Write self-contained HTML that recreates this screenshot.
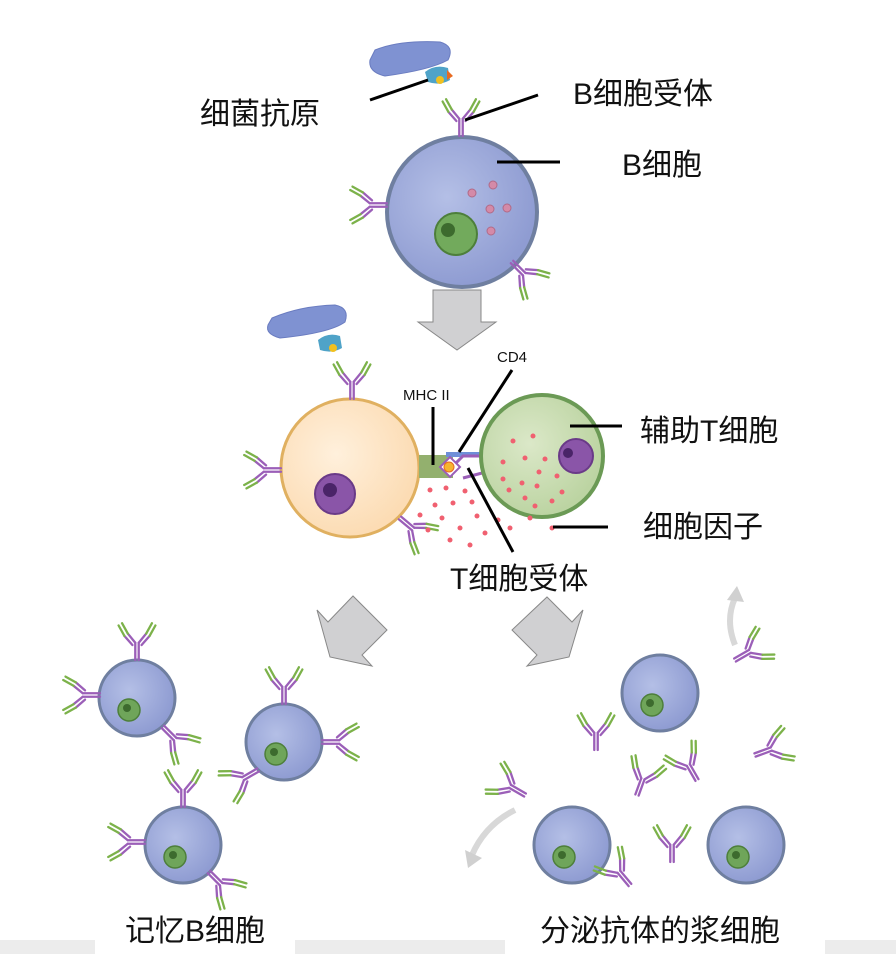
<!DOCTYPE html>
<html><head><meta charset="utf-8"><style>
body{margin:0;background:#fff}
svg{display:block}
text{font-family:"Liberation Sans","Noto Sans CJK SC",sans-serif;fill:#111}
</style></head><body>
<svg width="896" height="954" viewBox="0 0 896 954" xmlns="http://www.w3.org/2000/svg">
<defs>
<g id="ab0" fill="none" stroke-linecap="round">
  <path d="M-1.5,0 V-15 M1.5,0 V-15" stroke="#9b5fb8" stroke-width="2"/>
  <path d="M-1.5,-15 L-8,-23 M1.5,-15 L8,-23 M-4,-13 L-11,-21 M4,-13 L11,-21" stroke="#9b5fb8" stroke-width="2"/>
  <path d="M-8,-23 L-13,-32 M8,-23 L13,-32 M-11,-21 L-16,-30 M11,-21 L16,-30" stroke="#7cb24a" stroke-width="2"/>
</g>
<g id="ab"><use href="#ab0" transform="scale(1.15)"/></g>
<radialGradient id="bg" cx="40%" cy="40%" r="60%"><stop offset="0" stop-color="#b4bfe6"/><stop offset="1" stop-color="#8f9cd2"/></radialGradient>
<radialGradient id="og" cx="40%" cy="40%" r="60%"><stop offset="0" stop-color="#fff0dc"/><stop offset="1" stop-color="#fcdcb4"/></radialGradient>
<radialGradient id="gg" cx="40%" cy="40%" r="60%"><stop offset="0" stop-color="#dbe8c8"/><stop offset="1" stop-color="#bcd4a2"/></radialGradient>
<g id="sc">
  <circle r="38" fill="url(#bg)" stroke="#6f7fa0" stroke-width="3"/>
  <circle cx="-8" cy="12" r="11" fill="#6fa55a" stroke="#4d7f3a" stroke-width="1.5"/>
  <circle cx="-10" cy="10" r="4" fill="#3d6b2e"/>
</g>
</defs>

<rect x="0" y="940" width="896" height="14" fill="#ececec"/>
<rect x="95" y="940" width="200" height="14" fill="#fff"/>
<rect x="505" y="940" width="320" height="14" fill="#fff"/>

<!-- top bacterium -->
<path d="M375,50 Q400,40 440,42 Q455,46 448,60 Q430,70 385,76 Q368,72 370,60 Z" fill="#7f92d2" stroke="#6a7cc0"/>
<path d="M425,72 Q435,64 448,68 L450,80 Q440,86 428,82 Z" fill="#4fa3c8"/>
<circle cx="440" cy="80" r="4" fill="#f0c020"/>
<path d="M447,70 L453,76 L447,80 Z" fill="#e86a20"/>

<!-- top B cell -->
<circle cx="462" cy="212" r="75" fill="url(#bg)" stroke="#6f7fa0" stroke-width="4"/>
<use href="#ab" transform="translate(461,136)"/>
<use href="#ab" transform="translate(387,205) rotate(-90)"/>
<use href="#ab" transform="translate(512,262) rotate(135)"/>
<circle cx="456" cy="234" r="21" fill="#72aa5c" stroke="#4d7f3a" stroke-width="2"/>
<circle cx="448" cy="230" r="7" fill="#3d6b2e"/>
<g fill="#d48aa8" stroke="#b06a88" stroke-width="1">
<circle cx="472" cy="193" r="4"/><circle cx="493" cy="185" r="4"/><circle cx="490" cy="209" r="4"/><circle cx="507" cy="208" r="4"/><circle cx="491" cy="231" r="4"/>
</g>
<g stroke="#000" stroke-width="3">
<line x1="370" y1="100" x2="428" y2="80"/>
<line x1="465" y1="120" x2="538" y2="95"/>
<line x1="497" y1="162" x2="560" y2="162"/>
</g>
<text x="200" y="124" font-size="30">细菌抗原</text>
<text x="573" y="104" font-size="30">B细胞受体</text>
<text x="622" y="175" font-size="30">B细胞</text>

<path d="M433,290 H481 V322 H496 L457,350 L418,322 H433 Z" fill="#d0d0d2" stroke="#888" stroke-width="1"/>

<!-- middle bacterium -->
<path d="M272,318 Q300,306 335,305 Q350,308 345,322 Q330,333 280,338 Q265,334 268,325 Z" fill="#7f92d2" stroke="#6a7cc0"/>
<path d="M318,340 Q328,332 340,336 L342,348 Q332,354 320,350 Z" fill="#4fa3c8"/>
<circle cx="333" cy="348" r="4" fill="#f0c020"/>

<!-- orange cell -->
<circle cx="350" cy="468" r="69" fill="url(#og)" stroke="#e0b060" stroke-width="3"/>
<use href="#ab" transform="translate(352,399)"/>
<use href="#ab" transform="translate(281,470) rotate(-90)"/>
<use href="#ab" transform="translate(400,518) rotate(130)"/>
<circle cx="335" cy="494" r="20" fill="#8a55a8" stroke="#6a3a88" stroke-width="2"/>
<circle cx="330" cy="490" r="7" fill="#4a2468"/>

<rect x="419" y="455" width="34" height="23" fill="#93b06e"/>
<rect x="446" y="452" width="40" height="5" fill="#6f8fd8"/>
<path d="M453,466 L463,456 L486,456 M463,478 L486,472" stroke="#9b5fb8" stroke-width="3" fill="none"/>
<path d="M440,467 L450,457 L460,467 L450,477 Z" fill="#fff" stroke="#9b5fb8" stroke-width="2"/>
<circle cx="449" cy="467" r="5" fill="#f6b430" stroke="#e86a20"/>

<circle cx="542" cy="456" r="61" fill="url(#gg)" stroke="#6b9a55" stroke-width="4"/>
<circle cx="576" cy="456" r="17" fill="#8a55a8" stroke="#6a3a88" stroke-width="2"/>
<circle cx="568" cy="453" r="5" fill="#4a2468"/>
<g fill="#f06070">
<circle cx="533" cy="436" r="2.5"/><circle cx="513" cy="441" r="2.5"/><circle cx="525" cy="458" r="2.5"/><circle cx="545" cy="459" r="2.5"/><circle cx="503" cy="462" r="2.5"/><circle cx="539" cy="472" r="2.5"/><circle cx="503" cy="479" r="2.5"/><circle cx="522" cy="483" r="2.5"/><circle cx="537" cy="486" r="2.5"/><circle cx="557" cy="476" r="2.5"/><circle cx="509" cy="490" r="2.5"/><circle cx="525" cy="498" r="2.5"/><circle cx="552" cy="501" r="2.5"/><circle cx="535" cy="506" r="2.5"/><circle cx="562" cy="492" r="2.5"/>
<circle cx="430" cy="490" r="2.5"/><circle cx="446" cy="488" r="2.5"/><circle cx="465" cy="491" r="2.5"/><circle cx="435" cy="505" r="2.5"/><circle cx="453" cy="503" r="2.5"/><circle cx="472" cy="502" r="2.5"/><circle cx="420" cy="515" r="2.5"/><circle cx="442" cy="518" r="2.5"/><circle cx="477" cy="516" r="2.5"/><circle cx="498" cy="520" r="2.5"/><circle cx="428" cy="530" r="2.5"/><circle cx="460" cy="528" r="2.5"/><circle cx="485" cy="533" r="2.5"/><circle cx="510" cy="528" r="2.5"/><circle cx="450" cy="540" r="2.5"/><circle cx="470" cy="545" r="2.5"/><circle cx="552" cy="528" r="2.5"/><circle cx="530" cy="518" r="2.5"/>
</g>
<g stroke="#000" stroke-width="3">
<line x1="433" y1="407" x2="433" y2="465"/>
<line x1="459" y1="452" x2="512" y2="370"/>
<line x1="468" y1="468" x2="513" y2="552"/>
<line x1="570" y1="426" x2="622" y2="426"/>
<line x1="553" y1="527" x2="608" y2="527"/>
</g>
<text x="403" y="400" font-size="15">MHC II</text>
<text x="497" y="362" font-size="15">CD4</text>
<text x="640" y="441" font-size="30">辅助T细胞</text>
<text x="643" y="537" font-size="30">细胞因子</text>
<text x="450" y="589" font-size="30">T细胞受体</text>

<path d="M317,610 L328,622 L353,596 L387,630 L362,655 L372,666 L330,657 Z" fill="#d0d0d2" stroke="#888"/>
<path d="M583,610 L572,622 L547,597 L512,630 L537,655 L527,666 L569,657 Z" fill="#d0d0d2" stroke="#888"/>

<path d="M735,645 Q725,620 735,598" stroke="#d8d8d8" stroke-width="6" fill="none"/>
<path d="M727,600 L737,586 L744,602 Z" fill="#d0d0d0"/>
<path d="M515,810 Q485,825 472,855" stroke="#d8d8d8" stroke-width="6" fill="none"/>
<path d="M465,850 L468,868 L482,858 Z" fill="#d0d0d0"/>

<use href="#sc" transform="translate(137,698)"/>
<use href="#ab" transform="translate(137,660)"/>
<use href="#ab" transform="translate(100,695) rotate(-90)"/>
<use href="#ab" transform="translate(163,727) rotate(135)"/>
<use href="#sc" transform="translate(284,742)"/>
<use href="#ab" transform="translate(284,704)"/>
<use href="#ab" transform="translate(258,770) rotate(-120)"/>
<use href="#ab" transform="translate(322,742) rotate(90)"/>
<use href="#sc" transform="translate(183,845)"/>
<use href="#ab" transform="translate(183,807)"/>
<use href="#ab" transform="translate(145,842) rotate(-90)"/>
<use href="#ab" transform="translate(209,872) rotate(135)"/>

<use href="#sc" transform="translate(660,693)"/>
<use href="#sc" transform="translate(572,845)"/>
<use href="#sc" transform="translate(746,845)"/>
<use href="#ab" transform="translate(735,660) rotate(60)"/>
<use href="#ab" transform="translate(596,750)"/>
<use href="#ab" transform="translate(525,795) rotate(-60)"/>
<use href="#ab" transform="translate(637,795) rotate(20)"/>
<use href="#ab" transform="translate(697,780) rotate(-30)"/>
<use href="#ab" transform="translate(755,755) rotate(70)"/>
<use href="#ab" transform="translate(672,862)"/>
<use href="#ab" transform="translate(630,885) rotate(-40)"/>

<text x="125" y="941" font-size="30">记忆B细胞</text>
<text x="540" y="941" font-size="30">分泌抗体的浆细胞</text>
</svg>
</body></html>
